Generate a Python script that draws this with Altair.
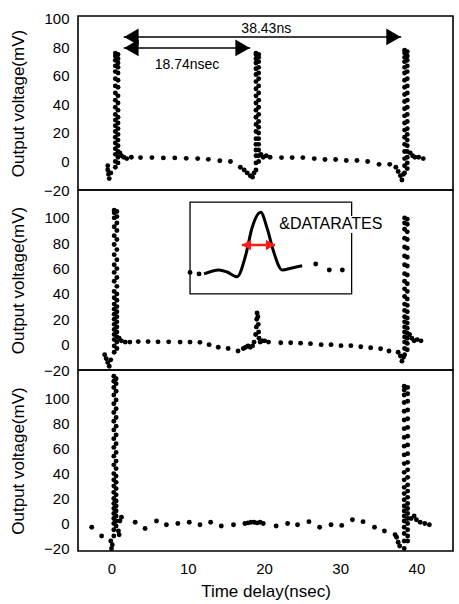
import altair as alt
import pandas as pd

FONT = "Liberation Sans"
X_DOMAIN = [-4.4, 44.8]
X_TICKS = [0, 10, 20, 30, 40]
Y_TICKS = [-20, 0, 20, 40, 60, 80, 100]
Y_TITLE = "Output voltage(mV)"
X_TITLE = "Time delay(nsec)"

# ---------------- Panel 1 (top) ----------------
p1_pts_x = [-0.5, -0.5, -0.4, -0.3, -0.1, 1.1, 1.3, 1.6, 2.0, 2.6,
            3.8, 5.3, 6.8, 8.3, 9.8, 11.3, 12.7, 14.2, 15.6,
            16.9, 17.4, 17.8, 18.2, 18.5, 18.7, 19.6, 19.9, 20.3, 20.8,
            22.3, 23.7, 25.1, 26.6, 28.0, 29.4, 30.8, 32.2, 33.6, 35.1, 36.5,
            37.3, 37.6, 37.9, 38.1, 38.3, 39.2, 39.5, 39.8, 40.3, 40.9]
p1_pts_y = [-3, -6, -9, -12, -8, 6, 4, 3, 2, 3,
            2.7, 2.7, 2.5, 2.5, 2.2, 2.0, 1.5, 0.5, 0.0,
            -4, -6, -8, -10, -11, -8, 5, 3, 4, 3,
            2.7, 2.7, 2.7, 2.0, 1.4, 1.4, 0.7, 0.7, 0.0, -2, -2,
            -4, -7, -10, -13, -9, 6, 4, 3, 3, 2]
p1_colA_rise_x, p1_colA_fall_x = 0.5, 0.85
p1_colA_rise = [-4, 0, 5, 9, 13, 17, 21, 25, 29, 33, 38, 43, 48, 53, 58, 63, 67, 71, 74, 76]
p1_colA_fall = [75, 72, 69, 66, 62, 57, 52, 46, 41, 36, 31, 27, 23, 19, 15, 11, 7, 3, -1]
p1_colB_rise_x, p1_colB_fall_x = 18.95, 19.3
p1_colB_rise = [-6, -1, 4, 8, 12, 16, 21, 26, 31, 36, 41, 46, 51, 56, 61, 65, 69, 72, 75, 76]
p1_colB_fall = [75, 73, 70, 66, 62, 58, 53, 48, 43, 38, 33, 28, 24, 20, 16, 12, 8, 4, 0]
p1_colC_rise_x, p1_colC_fall_x = 38.45, 38.8
p1_colC_rise = [-8, -3, 2, 7, 12, 17, 22, 27, 32, 37, 42, 47, 52, 57, 62, 66, 70, 73, 76, 78]
p1_colC_fall = [77, 74, 71, 67, 63, 58, 53, 48, 43, 38, 33, 28, 23, 19, 15, 11, 7, 3, -1, -5]

# arrows and labels in panel 1
arrow_x1 = [1.6, 1.6]
arrow_x2 = [38.0, 18.2]
arrow_y = [87.3, 79.6]
arrow_label = ["38.43ns", "18.74nsec"]
arrow_label_x = [20.3, 9.9]
arrow_label_y = [93.0, 67.8]

# ---------------- Panel 2 (middle) ----------------
p2_pts_x = [-0.9, -0.7, -0.5, -0.3, -0.1, 1.0, 1.3, 1.8, 2.4,
            3.5, 4.8, 6.1, 7.5, 9.0, 10.3, 11.6, 12.8, 14.0, 15.3, 16.6,
            17.3, 17.6, 17.9, 18.2, 18.5, 18.7, 18.9, 19.0, 19.05, 19.1, 19.2, 19.25, 19.3, 19.35,
            19.5, 19.8, 20.1, 20.6,
            22.2, 23.5, 24.8, 26.1, 27.5, 28.8, 30.1, 31.4, 32.7, 34.0, 35.3, 36.4,
            37.6, 37.9, 38.1, 38.3, 39.1, 39.4, 39.7, 40.1, 40.6]
p2_pts_y = [-8, -11, -14, -17, -12, 5, 3, 2, 2,
            2.4, 2.4, 2.2, 2.2, 2.0, 2.0, 1.8, 0.0, -2, -3, -5,
            -3, -2, -1, -2, -1, 2, 8, 14, 20, 25, 22, 16, 10, 5,
            2, 3, 3, 2,
            1.5, 1.5, 1.2, 0.8, 0.0, 0.0, -0.8, -0.8, -1.6, -2.4, -3.2, -5,
            -6, -9, -13, -10, 8, 5, 3, 4, 3]
p2_colA_rise_x, p2_colA_fall_x = 0.35, 0.7
p2_colA_rise = [-6, -1, 4, 8, 12, 16, 20, 24, 28, 32, 37, 42, 50, 57, 63, 71, 79, 86, 93, 100, 104, 106]
p2_colA_fall = [105, 101, 96, 90, 83, 75, 67, 60, 53, 46, 40, 35, 30, 26, 22, 18, 14, 10, 6, 2, -3]
p2_colC_rise_x, p2_colC_fall_x = 38.45, 38.8
p2_colC_rise = [-8, -3, 2, 6, 10, 14, 18, 22, 27, 32, 38, 44, 50, 56, 63, 70, 77, 84, 91, 96, 100]
p2_colC_fall = [99, 95, 89, 83, 76, 69, 62, 55, 48, 42, 36, 31, 26, 21, 17, 13, 9, 5, 1, -4]

# inset (in panel-2 data units)
inset_box_x = [10.3, 31.5]
inset_box_y = [40.0, 112.5]
inset_line_x = [12.14, 14.10, 15.15, 16.47, 17.61, 18.43, 19.58, 20.40, 21.32, 22.37, 23.68, 25.0]
inset_line_y = [55.8, 58.9, 57.3, 53.6, 70.7, 92.0, 104.4, 92.0, 72.3, 58.9, 60.5, 62.3]
inset_dot_x = [10.3, 11.48, 26.79, 28.57, 30.28]
inset_dot_y = [57.0, 55.8, 63.6, 58.9, 58.9]
red_arrow_x = [17.1, 21.45]
red_arrow_y = 78.6
inset_label = "&DATARATES"
inset_label_x = 22.0
inset_label_y = 94.8
inset_label_box_x = [21.7, 36.4]
inset_label_box_y = [88.0, 101.5]

# ---------------- Panel 3 (bottom) ----------------
p3_pts_x = [-2.6, -1.3, -0.1, 0.0, 0.1, 0.9, 1.0, 1.1, 1.3,
            3.1, 4.4, 5.9, 7.2, 8.7, 10.2, 11.6, 13.0, 14.4, 16.0,
            17.5, 17.9, 18.3, 18.7, 19.1, 19.5, 19.9,
            21.6, 23.1, 24.4, 25.9, 27.3, 28.8, 30.2, 31.6, 33.0, 34.5, 35.8,
            37.2, 37.4, 37.6, 37.8, 39.3, 39.7, 40.0, 40.5, 41.1, 41.7]
p3_pts_y = [-3, -10, -14, -20, -17, -6, -9, 2, 5,
            1, -4, 2, -1, 0, 1, -1, 1, -2, -1,
            0, 0.5, 1, 1, 0.5, 1, 0,
            -2, 0, -1, 1.5, -3, -1, -1.5, 3, 1.5, -3, -6,
            -9, -11, -15, -18, 4, 6, 3, 1, 0, -1]
p3_colA_rise_x, p3_colA_fall_x = 0.3, 0.6
p3_colA_rise = [-10, -5, 0, 4, 8, 12, 16, 20, 25, 30, 35, 40, 47, 54, 61, 68, 75, 82, 89, 96, 103, 109, 114, 118]
p3_colA_fall = [116, 112, 106, 99, 92, 85, 78, 71, 64, 57, 50, 44, 38, 33, 28, 23, 18, 14, 10, 6, 2, -2]
p3_colC_rise_x, p3_colC_fall_x = 38.4, 38.85
p3_colC_rise = [-20, -14, -8, -3, 2, 6, 10, 14, 19, 24, 29, 35, 41, 48, 55, 62, 69, 76, 83, 90, 97, 103, 107, 110]
p3_colC_fall = [109, 104, 98, 91, 84, 77, 70, 63, 56, 49, 43, 37, 31, 26, 21, 16, 12, 8, 4, 0, -5, -10, -14]


def build(pts_x, pts_y, cols):
    xs = list(pts_x)
    ys = list(pts_y)
    for cx, cy in cols:
        xs += [cx] * len(cy)
        ys += list(cy)
    return pd.DataFrame({"t": xs, "v": ys})


df1 = build(p1_pts_x, p1_pts_y, [(p1_colA_rise_x, p1_colA_rise), (p1_colA_fall_x, p1_colA_fall),
                                 (p1_colB_rise_x, p1_colB_rise), (p1_colB_fall_x, p1_colB_fall),
                                 (p1_colC_rise_x, p1_colC_rise), (p1_colC_fall_x, p1_colC_fall)])
df2 = build(p2_pts_x, p2_pts_y, [(p2_colA_rise_x, p2_colA_rise), (p2_colA_fall_x, p2_colA_fall),
                                 (p2_colC_rise_x, p2_colC_rise), (p2_colC_fall_x, p2_colC_fall)])
df3 = build(p3_pts_x, p3_pts_y, [(p3_colA_rise_x, p3_colA_rise), (p3_colA_fall_x, p3_colA_fall),
                                 (p3_colC_rise_x, p3_colC_rise), (p3_colC_fall_x, p3_colC_fall)])

W = 375
XS = alt.Scale(domain=X_DOMAIN, nice=False, zero=False)


def xenc(show):
    if show:
        return alt.X("t:Q", scale=XS,
                     axis=alt.Axis(values=X_TICKS, title=X_TITLE, labelPadding=10, titlePadding=7))
    return alt.X("t:Q", scale=XS, axis=None)


def yaxis():
    return alt.Axis(values=Y_TICKS, title=Y_TITLE, labelPadding=9, titlePadding=16, labelOverlap=False)


def yenc(dom):
    return alt.Y("v:Q", scale=alt.Scale(domain=dom, nice=False, zero=False), axis=yaxis())


def dots(df, dom, show_x):
    return alt.Chart(df).mark_circle(size=24, color="black", opacity=1).encode(
        x=xenc(show_x), y=yenc(dom))


TRI = alt.Scale(domain=["L", "R"], range=["triangle-left", "triangle-right"])

# Panel 1
dom1 = [-20, 102]
arr_df = pd.DataFrame({"x1": arrow_x1, "x2": arrow_x2, "y": arrow_y})
heads_df = pd.DataFrame({
    "t": [a + 1.0 for a in arrow_x1] + [b - 1.0 for b in arrow_x2],
    "v": arrow_y + arrow_y,
    "dir": ["L", "L", "R", "R"],
})
lab_df = pd.DataFrame({"t": arrow_label_x, "v": arrow_label_y, "s": arrow_label})

p1 = alt.layer(
    dots(df1, dom1, False),
    alt.Chart(arr_df).mark_rule(color="black", strokeWidth=1.6).encode(
        x=alt.X("x1:Q", scale=XS, axis=None),
        x2="x2:Q", y=alt.Y("y:Q", axis=yaxis())),
    alt.Chart(heads_df).mark_point(filled=True, color="black", opacity=1, size=280).encode(
        x=xenc(False), y=alt.Y("v:Q", axis=yaxis()),
        shape=alt.Shape("dir:N", scale=TRI, legend=None)),
    alt.Chart(lab_df).mark_text(font=FONT, fontSize=14, color="black").encode(
        x=xenc(False), y=alt.Y("v:Q", axis=yaxis()), text="s:N"),
).properties(width=W, height=174)

# Panel 2
dom2 = [-20, 122]
box_df = pd.DataFrame({"x1": [inset_box_x[0]], "x2": [inset_box_x[1]], "y1": [inset_box_y[0]], "y2": [inset_box_y[1]]})
iline_df = pd.DataFrame({"t": inset_line_x, "v": inset_line_y})
idot_df = pd.DataFrame({"t": inset_dot_x, "v": inset_dot_y})
red_df = pd.DataFrame({"x1": [red_arrow_x[0]], "x2": [red_arrow_x[1]], "y": [red_arrow_y]})
red_heads = pd.DataFrame({"t": [red_arrow_x[0] + 0.6, red_arrow_x[1] - 0.6], "v": [red_arrow_y] * 2,
                          "dir": ["L", "R"]})
lbox_df = pd.DataFrame({"x1": [inset_label_box_x[0]], "x2": [inset_label_box_x[1]],
                        "y1": [inset_label_box_y[0]], "y2": [inset_label_box_y[1]]})
ilab_df = pd.DataFrame({"t": [inset_label_x], "v": [inset_label_y], "s": [inset_label]})

p2 = alt.layer(
    dots(df2, dom2, False),
    alt.Chart(box_df).mark_rect(fill="white", stroke="black", strokeWidth=1.3).encode(
        x=alt.X("x1:Q", scale=XS, axis=None), x2="x2:Q",
        y=alt.Y("y1:Q", axis=yaxis()), y2="y2:Q"),
    alt.Chart(iline_df).mark_line(color="black", strokeWidth=3, interpolate="monotone").encode(
        x=xenc(False), y=alt.Y("v:Q", axis=yaxis())),
    alt.Chart(idot_df).mark_circle(size=24, color="black", opacity=1).encode(
        x=xenc(False), y=alt.Y("v:Q", axis=yaxis())),
    alt.Chart(red_df).mark_rule(color="#ff1a1a", strokeWidth=2.5).encode(
        x=alt.X("x1:Q", scale=XS, axis=None), x2="x2:Q",
        y=alt.Y("y:Q", axis=yaxis())),
    alt.Chart(red_heads).mark_point(filled=True, color="#ff1a1a", opacity=1, size=110).encode(
        x=xenc(False), y=alt.Y("v:Q", axis=yaxis()),
        shape=alt.Shape("dir:N", scale=TRI, legend=None)),
    alt.Chart(lbox_df).mark_rect(fill="white").encode(
        x=alt.X("x1:Q", scale=XS, axis=None), x2="x2:Q",
        y=alt.Y("y1:Q", axis=yaxis()), y2="y2:Q"),
    alt.Chart(ilab_df).mark_text(font=FONT, fontSize=16, color="black", align="left").encode(
        x=xenc(False), y=alt.Y("v:Q", axis=yaxis()), text="s:N"),
).properties(width=W, height=180)

# Panel 3
dom3 = [-22, 123]
p3 = dots(df3, dom3, True).properties(width=W, height=181)

chart = alt.vconcat(p1, p2, p3, spacing=0, bounds="flush").properties(
    padding={"left": 8, "top": 11, "right": 5, "bottom": 4}
).configure_view(stroke="black", strokeWidth=1.6).configure_axis(
    labelFont=FONT, titleFont=FONT, labelFontSize=15, titleFontSize=17, titleFontWeight="normal",
    labelColor="black", titleColor="black", grid=False, ticks=False, domain=False, labelOverlap=False
)

chart.save("out.html", embed_options={"renderer": "svg", "actions": False})
